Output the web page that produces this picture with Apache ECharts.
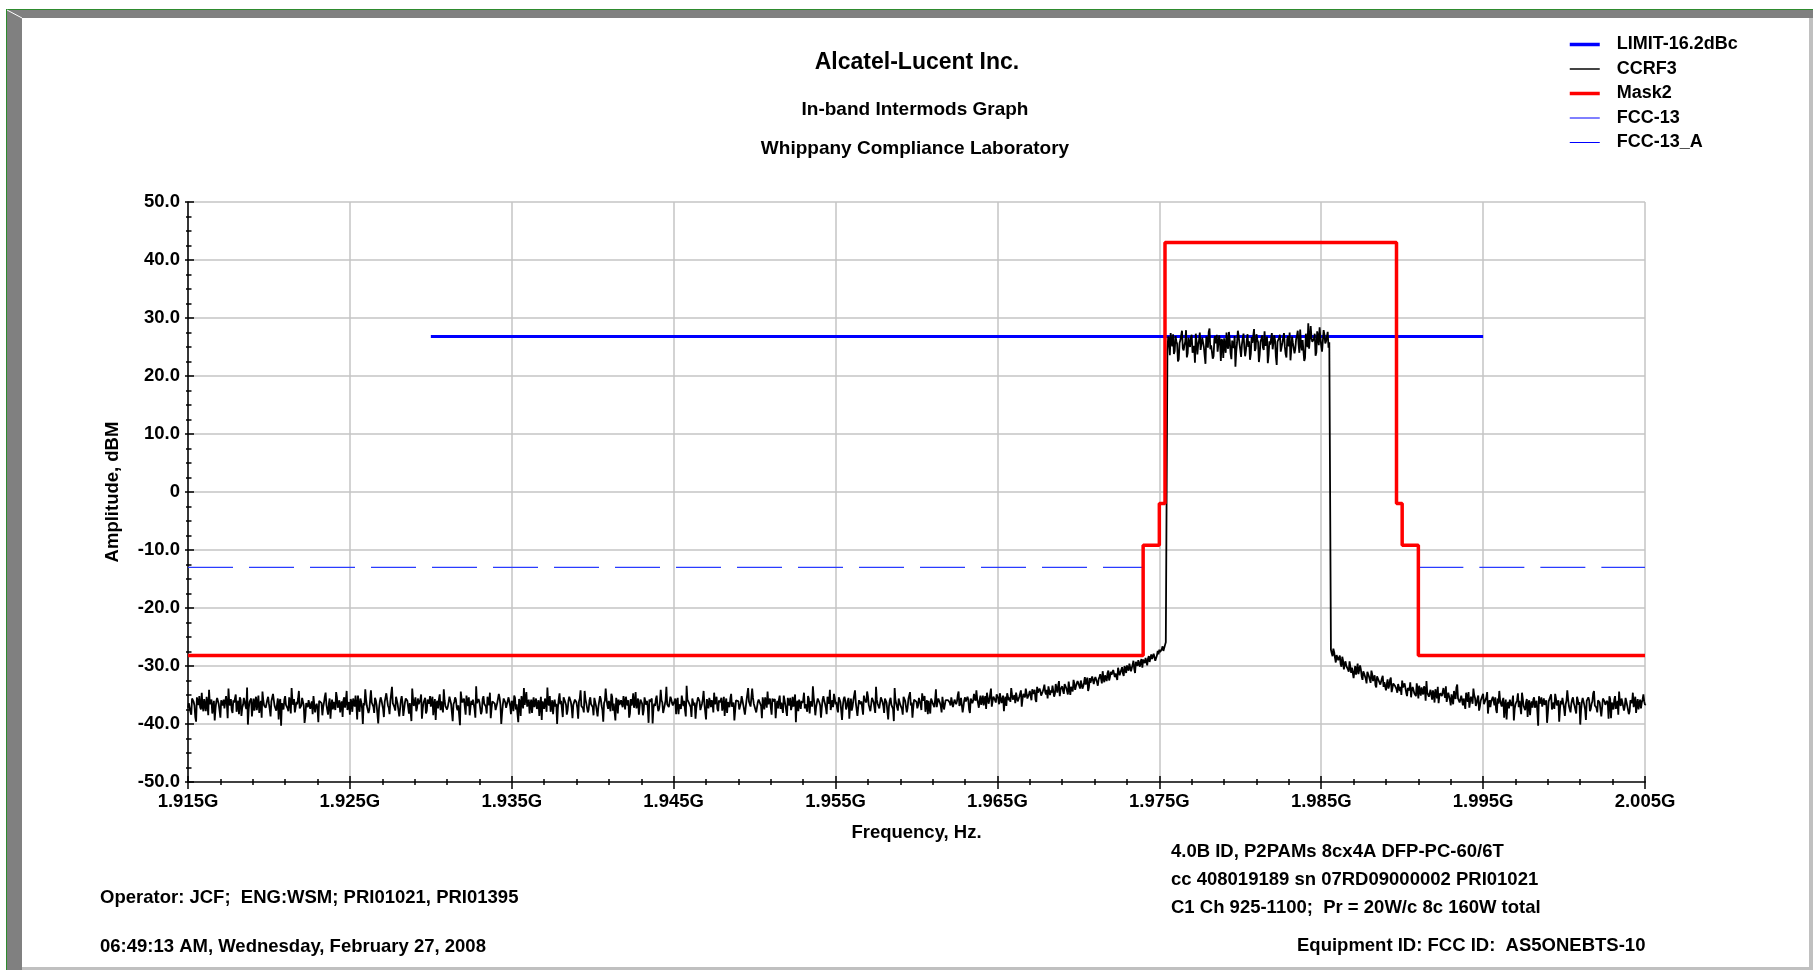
<!DOCTYPE html>
<html>
<head>
<meta charset="utf-8">
<script src="https://cdn.jsdelivr.net/npm/echarts@6/dist/echarts.min.js"></script>
<style>
  html, body { margin: 0; padding: 0; background: #ffffff; }
  #chart { width: 1813px; height: 970px; }
</style>
</head>
<body>
<div id="chart"></div>
<script>
// ---------------- DATA ----------------
const xMinGHz = 1.915;
const xMaxGHz = 2.005;
const xTickLabels = ['1.915G','1.925G','1.935G','1.945G','1.955G','1.965G','1.975G','1.985G','1.995G','2.005G'];
const yTickLabels = ['-50.0','-40.0','-30.0','-20.0','-10.0','0','10.0','20.0','30.0','40.0','50.0'];

const seriesNames = ['LIMIT-16.2dBc', 'CCRF3', 'Mask2', 'FCC-13', 'FCC-13_A'];

// LIMIT-16.2dBc
const limitFreqGHz = [1.930, 1.995];
const limitAmp = [26.8, 26.8];

// Mask2
const mask2FreqGHz = [1.915, 1.974, 1.974, 1.975, 1.975, 1.97535, 1.97535, 1.98965, 1.98965, 1.990, 1.990, 1.991, 1.991, 2.005];
const mask2Amp     = [-28.2, -28.2, -9.2, -9.2, -2.0, -2.0, 43.0, 43.0, -2.0, -2.0, -9.2, -9.2, -28.2, -28.2];

// FCC-13 / FCC-13_A
const fcc13FreqGHz = [1.915, 1.974];
const fcc13Amp = [-13, -13];
const fcc13AFreqGHz = [1.991, 2.005];
const fcc13AAmp = [-13, -13];

// CCRF3 sweep: 0.05 MHz per point. Each band is listed as two halves:
// "A" = samples on the 0.1 MHz grid, "B" = the samples 0.05 MHz after them.
const ccrf3StepGHz = 0.0001;
const ccrf3HalfStepGHz = 0.00005;

const ccrf3LowStartGHz = 1.915;
const ccrf3LowA = [
-37.2,-36.1,-38.4,-35.9,-36.8,-39.6,-36.3,-35.2,-37.5,-36.9,
-35.7,-37.8,-36.4,-34.1,-36.9,-38.2,-36.0,-37.3,-35.5,-36.6,
-38.9,-36.2,-35.8,-37.1,-36.5,-33.9,-36.8,-37.6,-35.9,-36.3,
-37.9,-36.0,-35.4,-38.6,-36.7,-36.1,-37.4,-40.1,-36.2,-35.6,
-36.9,-37.7,-35.3,-36.4,-38.1,-36.0,-34.4,-36.8,-37.2,-35.8,
-36.5,-38.7,-36.3,-35.9,-37.0,-36.6,-39.2,-35.7,-36.4,-37.5,
-35.2,-36.9,-37.8,-36.1,-33.8,-36.7,-38.0,-36.2,-35.6,-37.3,
-36.8,-35.5,-39.8,-36.4,-37.1,-35.9,-36.6,-38.3,-35.1,-36.9,
-37.4,-36.0,-35.7,-38.5,-36.3,-34.6,-37.0,-36.5,-39.1,-35.8,
-36.2,-37.6,-35.4,-36.8,-38.0,-36.1,-35.9,-37.2,-34.3,-36.7,
-38.4,-36.3,-35.6,-37.0,-36.6,-35.1,-37.9,-36.2,-40.0,-36.8,
-35.7,-36.9,-37.5,-34.2,-36.4,-38.1,-35.9,-36.6,-37.3,-35.4,
-36.1,-38.8,-36.5,-35.8,-37.2,-36.0,-33.6,-36.7,-37.7,-35.5,
-36.9,-37.4,-35.2,-38.6,-36.3,-35.9,-37.1,-36.4,-39.5,-35.7,
-36.2,-37.8,-35.6,-36.8,-34.9,-37.3,-36.1,-38.2,-35.8,-36.5,
-37.0,-35.3,-36.7,-39.3,-36.0,-35.7,-37.6,-36.3,-34.0,-36.9,
-37.5,-36.2,-35.9,-38.0,-36.6,-35.4,-37.2,-36.8,-40.2,-35.6,
-36.4,-37.1,-35.1,-36.9,-38.5,-36.0,-35.8,-37.4,-33.5,-36.6,
-36.2,-38.3,-35.7,-36.5,-37.0,-35.3,-36.8,-39.0,-36.1,-35.9,
-37.6,-36.4,-34.8,-36.7,-38.1,-35.6,-36.3,-37.2,-35.4,-36.9,
-36.0,-37.8,-35.5,-36.6,-39.7,-36.2,-35.2,-37.3,-36.7,-34.5,
-36.8,-38.2,-35.8,-36.4,-37.1,-35.6,-36.9,-38.6,-35.3,-36.1,
-37.4,-36.3,-33.7,-36.8,-37.9,-35.9,-36.5,-37.0,-40.0,-35.7,
-36.6,-37.5,-35.4,-36.2,-38.4,-36.0,-35.1,-37.2,-36.7,-35.8,
-36.3,-39.1,-35.6,-36.9,-37.3,-34.3,-36.4,-38.0,-35.9,-36.6,
-37.1,-35.5,-36.8,-38.7,-36.1,-35.7,-37.6,-36.4,-33.9,-36.7,
-36.0,-37.8,-35.3,-36.5,-39.4,-36.2,-35.8,-37.0,-36.6,-35.2,
-37.5,-36.3,-35.9,-38.2,-36.8,-34.7,-36.4,-37.3,-35.6,-36.9,
-36.1,-38.5,-35.4,-36.7,-37.2,-35.8,-36.2,-39.9,-36.5,-35.7,
-36.8,-37.4,-34.1,-36.3,-38.0,-35.9,-36.6,-37.1,-35.3,-36.4,
-37.0,-35.6,-36.2,-38.3,-36.5,-35.1,-36.9,-37.6,-33.4,-36.0,
-36.7,-38.8,-35.8,-36.3,-37.2,-35.4,-36.1,-37.9,-35.7,-36.6,
-39.2,-36.0,-35.5,-37.1,-36.4,-34.6,-36.8,-37.4,-35.9,-36.2,
-37.7,-35.3,-36.5,-38.1,-36.0,-35.6,-37.0,-36.3,-39.6,-35.8,
-36.1,-37.3,-35.2,-36.7,-38.4,-35.9,-33.8,-36.4,-37.1,-35.5,
-36.6,-38.0,-36.2,-35.7,-36.9,-35.4,-37.5,-36.1,-34.4,-36.8,
-37.2,-35.6,-36.3,-39.0,-36.0,-35.8,-37.4,-36.5,-35.1,-36.7,
-38.6,-36.2,-35.5,-36.9,-37.0,-34.9,-36.4,-37.8,-35.7,-36.0,
-35.9,-37.3,-36.6,-35.2,-38.2,-36.1,-33.5,-36.7,-37.1,-35.6,
-36.3,-38.9,-35.8,-36.0,-37.2,-35.3,-36.5,-37.6,-35.9,-34.8,
-36.6,-37.4,-35.4,-36.2,-39.3,-35.7,-36.0,-37.0,-35.5,-36.8,
-37.7,-35.9,-34.2,-36.4,-37.1,-35.6,-36.1,-38.4,-35.8,-36.3,
-35.2,-36.9,-37.5,-35.7,-36.0,-33.6,-36.5,-37.3,-35.4,-36.2,
-38.1,-35.8,-36.4,-36.9,-35.5,-37.0,-39.5,-35.9,-36.1,-35.6,
-36.7,-37.4,-35.3,-36.0,-38.0,-35.7,-34.5,-36.3,-37.2,-35.9,
-36.2,-36.8,-35.4,-37.6,-36.0,-35.2,-36.5,-38.3,-35.8,-35.6,
-36.4,-37.1,-34.0,-36.2,-35.7,-36.9,-35.3,-37.5,-35.9,-36.0
];
const ccrf3LowB = [
-36.4,-37.9,-35.6,-36.2,-38.8,-35.4,-36.7,-37.1,-34.6,-37.8,
-36.0,-35.3,-38.5,-36.6,-35.8,-37.0,-39.4,-36.1,-35.5,-37.7,
-35.9,-36.8,-37.3,-35.2,-39.0,-36.4,-35.7,-38.1,-36.3,-34.9,
-36.6,-38.3,-35.8,-37.2,-35.5,-36.9,-33.7,-37.4,-36.0,-38.7,
-35.6,-36.3,-37.6,-35.1,-36.8,-38.9,-35.9,-36.5,-37.2,-35.3,
-37.5,-36.1,-34.8,-36.9,-37.7,-35.6,-36.2,-40.3,-36.4,-35.8,
-36.7,-37.3,-35.4,-38.2,-36.0,-35.7,-37.9,-36.6,-34.3,-37.0,
-35.5,-36.8,-38.6,-36.2,-35.9,-37.4,-36.1,-35.2,-38.0,-36.5,
-39.7,-35.8,-36.4,-37.1,-35.3,-36.7,-38.4,-35.6,-36.9,-37.5,
-36.3,-34.5,-37.2,-35.9,-36.6,-38.8,-35.4,-36.0,-37.6,-36.2,
-35.7,-37.9,-36.5,-35.1,-39.2,-36.8,-35.6,-37.3,-36.4,-34.0,
-36.9,-38.1,-35.8,-36.3,-37.0,-35.5,-36.7,-39.9,-36.1,-35.9,
-37.4,-36.2,-34.7,-36.8,-38.3,-35.7,-36.4,-37.1,-35.3,-36.6,
-38.7,-35.9,-36.3,-37.5,-35.6,-36.0,-38.2,-36.5,-33.9,-36.9,
-35.4,-37.2,-36.6,-35.8,-39.1,-36.3,-35.5,-37.7,-36.0,-35.2,
-36.8,-38.5,-35.7,-36.4,-37.3,-34.9,-36.1,-38.0,-35.9,-36.7,
-37.0,-35.3,-36.5,-39.5,-36.2,-35.8,-37.6,-36.9,-34.4,-36.3,
-35.6,-38.4,-36.0,-35.4,-37.1,-36.7,-35.9,-38.9,-36.4,-35.7,
-36.2,-37.8,-35.2,-36.8,-38.2,-36.1,-34.6,-37.3,-35.8,-36.5,
-37.7,-36.3,-35.5,-40.0,-36.6,-35.9,-37.2,-36.0,-35.3,-38.3,
-36.4,-35.1,-37.5,-36.9,-35.7,-38.6,-36.2,-33.8,-36.8,-37.0,
-35.8,-36.6,-38.1,-35.4,-36.3,-37.4,-35.9,-36.7,-39.3,-36.1,
-35.6,-37.9,-36.4,-35.2,-36.9,-38.3,-35.8,-36.5,-37.2,-34.7,
-36.0,-38.8,-35.5,-36.7,-37.6,-35.3,-36.2,-39.0,-36.6,-35.9,
-37.3,-36.1,-34.2,-36.8,-38.0,-35.7,-36.4,-37.5,-35.4,-36.3,
-38.5,-35.8,-36.6,-37.0,-35.2,-36.9,-39.6,-36.0,-35.6,-37.4,
-36.2,-34.8,-37.7,-36.4,-35.5,-38.2,-36.7,-35.9,-37.1,-36.1,
-35.3,-36.8,-38.9,-35.7,-36.3,-37.2,-34.5,-36.6,-38.4,-35.8,
-36.5,-37.6,-35.4,-36.0,-39.8,-36.2,-35.6,-37.3,-36.9,-35.1,
-37.8,-36.3,-35.9,-38.1,-36.7,-33.6,-36.4,-37.0,-35.7,-36.8,
-36.1,-38.3,-35.5,-36.6,-37.4,-35.2,-36.0,-38.7,-35.8,-36.4,
-37.1,-35.6,-36.8,-39.1,-36.2,-35.4,-37.6,-36.5,-34.3,-36.9,
-35.7,-37.3,-36.1,-35.9,-38.0,-36.6,-35.3,-37.8,-36.3,-35.5,
-36.9,-38.6,-35.6,-36.2,-37.1,-34.8,-36.7,-39.4,-35.9,-36.0,
-37.5,-36.4,-35.2,-36.8,-38.2,-35.7,-36.1,-37.0,-33.9,-36.5,
-36.3,-37.7,-35.8,-36.0,-39.0,-36.4,-35.4,-37.2,-36.6,-35.6,
-38.4,-36.1,-35.7,-36.9,-37.3,-35.1,-36.3,-38.1,-35.9,-36.7,
-35.5,-36.8,-37.6,-35.3,-36.2,-39.7,-36.0,-35.8,-37.4,-36.4,
-34.6,-36.6,-37.9,-35.6,-36.1,-37.0,-35.4,-38.5,-36.3,-35.7,
-36.8,-37.2,-35.2,-36.5,-38.3,-35.9,-34.1,-36.7,-37.1,-35.5,
-36.2,-38.0,-35.8,-36.4,-36.9,-35.3,-37.5,-36.0,-39.1,-35.6,
-37.0,-35.7,-36.3,-38.6,-35.9,-36.6,-37.3,-35.1,-36.1,-34.4,
-36.7,-37.8,-35.5,-36.2,-38.1,-35.8,-36.4,-37.0,-35.4,-36.9,
-35.6,-36.3,-39.2,-35.9,-36.7,-37.4,-33.8,-36.2,-37.7,-35.7,
-36.5,-38.4,-35.3,-36.0,-37.2,-35.6,-36.8,-38.9,-35.8,-36.1,
-37.3,-35.5,-36.6,-34.7,-36.3,-37.9,-35.9,-36.0,-38.2,-35.4,
-36.2,-35.8,-37.1,-35.6,-36.4,-38.0,-35.2,-36.7,-36.1,-35.9
];

const ccrf3RiseStartGHz = 1.962;
const ccrf3RiseA = [
-35.6,-36.8,-35.2,-37.3,-35.9,-36.1,-34.4,-36.5,-35.7,-37.0,
-35.4,-36.2,-35.8,-38.1,-35.3,-36.0,-35.6,-34.2,-36.4,-35.9,
-36.7,-35.1,-35.8,-37.4,-35.5,-35.9,-33.9,-36.1,-35.4,-36.3,
-35.2,-36.6,-35.0,-35.7,-37.8,-35.3,-34.7,-35.9,-36.2,-34.9,
-35.5,-36.4,-34.6,-35.8,-35.1,-37.0,-34.8,-35.4,-33.6,-35.7,
-34.3,-35.9,-34.8,-34.1,-36.2,-34.6,-33.9,-35.1,-34.4,-33.2,
-34.9,-35.6,-33.8,-34.2,-33.4,-35.3,-33.1,-34.6,-32.6,-34.0,
-33.5,-34.8,-33.2,-33.9,-32.7,-35.0,-33.3,-32.4,-34.1,-33.0,
-32.8,-33.9,-32.2,-33.5,-31.9,-32.6,-34.3,-32.1,-32.9,-31.6,
-32.3,-31.7,-33.4,-31.9,-32.2,-30.9,-32.8,-31.5,-31.2,-32.5,
-31.0,-31.8,-30.4,-31.3,-32.4,-30.6,-31.1,-30.2,-31.7,-30.5,
-29.9,-30.8,-29.4,-30.3,-29.1,-31.2,-29.6,-29.0,-30.1,-28.8,
-28.9,-29.5,-28.4,-28.7,-29.3,-28.0,-28.5,-27.7,-28.9,-27.4,
-27.2,-27.8,-26.6,-26.9,-25.9
];
const ccrf3RiseB = [
-36.3,-35.4,-37.1,-35.8,-36.6,-35.0,-36.9,-35.5,-38.0,-35.9,
-36.1,-35.3,-37.5,-35.6,-36.4,-34.8,-36.0,-35.7,-37.2,-35.1,
-35.9,-36.8,-35.2,-34.6,-36.5,-35.8,-37.0,-35.3,-35.9,-34.9,
-35.6,-34.7,-36.4,-35.1,-35.9,-36.9,-34.5,-35.4,-33.8,-35.8,
-35.0,-34.6,-36.1,-35.3,-34.2,-35.7,-35.0,-33.9,-35.6,-34.8,
-35.2,-34.0,-34.7,-35.8,-33.6,-34.9,-34.3,-35.4,-33.9,-34.5,
-34.1,-33.5,-35.0,-34.6,-33.2,-34.8,-33.9,-33.4,-35.2,-33.7,
-34.3,-33.1,-33.8,-34.9,-32.9,-33.6,-34.4,-33.0,-33.5,-32.6,
-33.4,-32.5,-33.9,-32.8,-33.2,-32.0,-33.7,-32.9,-31.8,-33.1,
-31.9,-32.8,-32.3,-31.4,-33.0,-32.1,-31.6,-32.6,-30.8,-31.9,
-31.5,-30.7,-31.9,-31.1,-30.3,-31.6,-30.9,-31.3,-30.0,-31.2,
-30.4,-29.6,-30.9,-29.8,-30.5,-29.3,-30.0,-29.7,-29.2,-30.3,
-29.2,-28.6,-29.9,-28.3,-29.0,-28.8,-27.9,-29.1,-28.2,-28.0,
-27.6,-27.1,-27.4,-26.4,-26.2
];

const ccrf3BandStartGHz = 1.9755;
const ccrf3BandA = [
24.6,26.3,27.4,25.1,23.8,26.9,25.5,22.9,26.2,27.8,
24.4,25.9,23.2,26.6,25.0,27.1,24.1,22.3,26.0,25.4,
27.5,24.7,25.8,23.5,26.8,24.9,28.2,25.3,23.0,26.4,
25.6,24.2,27.0,22.6,25.9,26.5,24.0,25.2,27.6,23.9,
26.1,24.8,21.6,25.7,26.9,24.5,25.4,27.3,23.4,26.2,
25.0,22.8,26.7,25.5,24.3,27.2,25.8,23.7,26.4,24.9,
27.7,25.3,22.2,26.0,25.6,24.6,27.0,23.3,25.9,26.6,
24.2,25.7,27.4,23.8,26.3,25.1,22.7,26.8,25.4,24.7,
26.9,25.5,28.0,24.4,26.1,23.1,25.8,29.1,24.9,26.5,
25.6,27.3,24.1,26.7,28.4,25.2,23.9,27.1,26.0,27.6,
25.8
];
const ccrf3BandB = [
26.8,23.6,25.9,27.2,24.3,26.0,22.5,25.7,27.0,24.8,
25.3,27.9,23.9,25.6,26.7,24.0,25.2,27.3,23.7,26.1,
24.5,26.6,25.0,22.1,26.3,27.6,24.6,25.5,23.4,26.9,
27.1,24.1,25.8,26.4,23.1,25.1,27.5,24.7,26.2,22.9,
25.4,26.9,24.2,27.8,25.6,23.3,26.5,25.0,24.4,27.2,
26.0,23.8,25.7,28.1,24.8,26.3,22.4,25.9,27.0,24.5,
25.2,26.8,23.6,25.4,27.4,24.9,26.1,21.9,25.8,27.1,
24.3,26.6,25.1,23.2,26.9,27.5,24.6,25.7,23.9,26.4,
27.8,24.0,25.5,26.2,22.6,27.3,25.0,24.7,28.6,25.9,
26.4,23.5,27.7,25.3,26.6,24.2,27.9,25.6,26.8,24.9,
25.5
];

const ccrf3HighStartGHz = 1.9856;
const ccrf3HighA = [
-27.2,-28.3,-27.6,-29.4,-28.0,-28.9,-29.7,-28.4,-30.6,-29.2,
-29.8,-31.0,-29.5,-30.3,-32.1,-30.0,-30.7,-31.4,-29.9,-31.8,
-30.9,-31.5,-33.0,-31.2,-32.0,-30.8,-32.6,-31.6,-33.7,-31.9,
-32.4,-33.1,-31.7,-32.8,-34.2,-32.3,-33.4,-32.0,-33.8,-32.7,
-33.3,-34.6,-32.9,-33.6,-32.5,-34.0,-33.2,-35.2,-33.5,-32.8,
-34.1,-33.4,-34.8,-33.0,-35.6,-34.3,-33.7,-34.9,-33.9,-32.6,
-34.5,-35.0,-33.8,-34.2,-36.3,-34.7,-33.6,-35.1,-34.4,-35.5,
-34.8,-33.5,-35.3,-34.6,-36.8,-35.0,-34.3,-35.7,-33.2,-35.4,
-36.0,-34.9,-35.6,-37.4,-35.2,-34.5,-36.1,-35.8,-33.9,-35.5,
-36.4,-35.1,-37.0,-35.7,-34.8,-36.3,-35.4,-38.2,-35.9,-36.1,
-35.3,-36.8,-37.5,-35.6,-34.3,-36.5,-36.0,-38.9,-35.8,-36.7,
-37.3,-35.5,-36.2,-39.4,-36.6,-35.9,-37.1,-36.3,-34.6,-36.9,
-37.6,-35.7,-36.4,-38.5,-36.1,-35.8,-37.2,-36.0,-40.3,-36.5,
-35.4,-37.0,-36.7,-35.9,-38.1,-36.2,-34.9,-36.8,-37.4,-35.6,
-36.3,-39.6,-36.0,-35.5,-37.3,-36.6,-34.2,-36.9,-38.0,-35.8,
-36.4,-37.1,-35.3,-36.7,-40.1,-36.2,-35.7,-37.5,-36.0,-35.4,
-37.8,-36.5,-34.7,-36.8,-37.2,-35.9,-36.3,-38.7,-35.6,-36.1,
-37.0,-36.4,-35.2,-39.0,-36.6,-35.8,-37.4,-36.0,-34.4,-36.9,
-36.2,-37.7,-35.5,-36.8,-38.3,-35.9,-36.4,-37.1,-35.3,-36.6,
-37.5,-35.8,-36.3,-34.9,-36.7
];
const ccrf3HighB = [
-27.8,-27.0,-28.6,-28.1,-29.0,-28.2,-30.1,-29.1,-29.6,-30.0,
-30.6,-29.2,-31.2,-30.4,-30.9,-31.5,-29.6,-31.1,-30.6,-32.4,
-31.3,-32.2,-31.0,-31.8,-32.9,-31.4,-32.1,-33.3,-31.8,-32.5,
-33.2,-32.1,-33.6,-32.6,-33.1,-33.9,-32.4,-34.5,-33.0,-33.4,
-34.0,-33.1,-34.3,-35.0,-33.7,-33.0,-34.6,-33.8,-34.2,-35.4,
-33.6,-34.7,-35.2,-34.0,-33.4,-35.1,-34.5,-33.5,-36.0,-34.6,
-35.3,-34.1,-35.8,-34.9,-34.0,-35.6,-36.4,-34.7,-35.2,-33.8,
-35.5,-36.2,-34.6,-35.9,-34.9,-36.6,-35.3,-33.7,-35.6,-36.3,
-35.1,-36.8,-35.8,-34.6,-36.2,-37.2,-35.3,-36.5,-35.0,-36.9,
-35.6,-37.7,-36.0,-35.2,-36.6,-35.8,-34.5,-36.4,-37.1,-35.7,
-36.1,-35.4,-38.1,-36.5,-35.9,-37.0,-35.5,-36.8,-39.2,-36.2,
-35.8,-36.9,-35.1,-37.4,-36.4,-34.7,-36.0,-38.3,-35.6,-36.6,
-36.3,-38.8,-35.9,-36.7,-37.2,-35.4,-36.5,-37.8,-35.2,-36.1,
-37.0,-35.6,-36.4,-39.8,-36.1,-35.8,-37.5,-36.3,-34.8,-36.8,
-35.9,-37.3,-36.6,-35.3,-38.6,-36.0,-35.7,-37.1,-36.5,-35.4,
-36.9,-38.2,-35.8,-36.2,-37.6,-35.5,-36.7,-39.3,-36.0,-35.9,
-37.4,-36.1,-34.3,-36.6,-38.0,-35.6,-36.4,-37.2,-35.8,-36.7,
-36.0,-39.1,-35.7,-36.3,-37.5,-35.2,-36.8,-38.4,-36.2,-35.6,
-36.5,-37.0,-35.4,-36.9,-37.8,-35.9,-34.6,-36.3,-38.1,-35.7,
-36.4,-37.3,-35.8,-36.1,-36.6
];

// ---------------- BUILD ----------------
// x axis is plotted in MHz above the sweep start (1.915 GHz)
function xOff(fGHz) { return Math.round((fGHz - xMinGHz) * 1e6) / 1e3; }
function pairs(freqs, amps) { return freqs.map((f, i) => [xOff(f), amps[i]]); }
function band(startGHz, halfA, halfB) {
  const out = [];
  const n = Math.max(halfA.length, halfB.length);
  for (let k = 0; k < n; k++) {
    if (k < halfA.length) out.push([xOff(startGHz + k * ccrf3StepGHz), halfA[k]]);
    if (k < halfB.length) out.push([xOff(startGHz + k * ccrf3StepGHz + ccrf3HalfStepGHz), halfB[k]]);
  }
  return out;
}
const ccrf3Data = [].concat(
  band(ccrf3LowStartGHz, ccrf3LowA, ccrf3LowB),
  band(ccrf3RiseStartGHz, ccrf3RiseA, ccrf3RiseB),
  band(ccrf3BandStartGHz, ccrf3BandA, ccrf3BandB),
  band(ccrf3HighStartGHz, ccrf3HighA, ccrf3HighB)
);

const FONT = '"Liberation Sans", Arial, Helvetica, sans-serif';
const xSpan = xOff(xMaxGHz);

const chart = echarts.init(document.getElementById('chart'), null, { renderer: 'canvas' });

const gridPos = { left: 188, top: 202, width: 1457, height: 580 };

function xAxisCfg(gridIndex, main) {
  return {
    type: 'value', gridIndex: gridIndex, min: 0, max: xSpan, interval: 10,
    axisLine: { show: main, onZero: false, lineStyle: { color: '#404040', width: 2 } },
    axisTick: { show: true, inside: !main, length: main ? 7 : 6, lineStyle: { color: '#000', width: 1.5 } },
    minorTick: { show: true, splitNumber: 5, length: 3, lineStyle: { color: '#000', width: 1.5 } },
    splitLine: { show: main, lineStyle: { color: '#c4c4c4', width: 1.5 } },
    axisLabel: {
      show: main, margin: 10, color: '#000', fontSize: 18.5, fontWeight: 'bold', fontFamily: FONT,
      formatter: v => xTickLabels[Math.round(v / 10)] || ''
    },
    name: main ? 'Frequency, Hz.' : '', nameLocation: 'middle', nameGap: 41,
    nameTextStyle: { color: '#000', fontSize: 18.5, fontWeight: 'bold', fontFamily: FONT }
  };
}
function yAxisCfg(gridIndex, main) {
  return {
    type: 'value', gridIndex: gridIndex, min: -50, max: 50, interval: 10,
    axisLine: { show: main, onZero: false, lineStyle: { color: '#000', width: 1.5 } },
    axisTick: { show: true, inside: !main, length: main ? 3 : 6, lineStyle: { color: '#000', width: 1.5 } },
    minorTick: { show: true, splitNumber: 4, length: main ? 2 : 3.5, lineStyle: { color: '#000', width: 1.5 } },
    splitLine: { show: main, lineStyle: { color: '#c4c4c4', width: 1.5 } },
    axisLabel: {
      show: main, margin: 8, color: '#000', fontSize: 18.5, fontWeight: 'bold', fontFamily: FONT,
      formatter: v => yTickLabels[Math.round((v + 50) / 10)] || ''
    },
    name: main ? 'Amplitude, dBM' : '', nameLocation: 'middle', nameGap: 66, nameRotate: 90,
    nameTextStyle: { color: '#000', fontSize: 18.5, fontWeight: 'bold', fontFamily: FONT }
  };
}

function txt(x, y, text, size, align) {
  return {
    type: 'text', x: x, y: y, silent: true,
    style: {
      text: text, fill: '#000', fontSize: size, fontWeight: 'bold', fontFamily: FONT,
      align: align || 'left', verticalAlign: 'middle'
    }
  };
}
function rect(x, y, w, h, color) {
  return { type: 'rect', silent: true, shape: { x: x, y: y, width: w, height: h }, style: { fill: color } };
}

const option = {
  animation: false,
  backgroundColor: '#ffffff',
  grid: [
    Object.assign({}, gridPos, { containLabel: false }),
    Object.assign({}, gridPos, { containLabel: false })
  ],
  xAxis: [xAxisCfg(0, true), xAxisCfg(1, false)],
  yAxis: [yAxisCfg(0, true), yAxisCfg(1, false)],
  legend: {
    orient: 'vertical', left: 1568, top: 35.5, padding: 0,
    itemWidth: 30, itemHeight: 14, itemGap: 6.5,
    itemStyle: { opacity: 0 },
    textStyle: { color: '#000', fontSize: 18, fontWeight: 'bold', fontFamily: FONT, lineHeight: 18, padding: [0, 0, 0, 12] },
    data: [
      { name: seriesNames[0], itemStyle: { opacity: 0 }, lineStyle: { color: '#0000ff', width: 3.5, type: 'solid' } },
      { name: seriesNames[1], itemStyle: { opacity: 0 }, lineStyle: { color: '#444444', width: 2, type: 'solid' } },
      { name: seriesNames[2], itemStyle: { opacity: 0 }, lineStyle: { color: '#ff0000', width: 3.5, type: 'solid' } },
      { name: seriesNames[3], itemStyle: { opacity: 0 }, lineStyle: { color: '#0000ff', width: 1, type: 'solid' } },
      { name: seriesNames[4], itemStyle: { opacity: 0 }, lineStyle: { color: '#0000ff', width: 1, type: 'solid' } }
    ]
  },
  series: [
    { name: seriesNames[0], type: 'line', symbol: 'none', xAxisIndex: 0, yAxisIndex: 0,
      lineStyle: { color: '#0000ff', width: 3 }, itemStyle: { color: '#0000ff' },
      data: pairs(limitFreqGHz, limitAmp), z: 3 },
    { name: seriesNames[1], type: 'line', symbol: 'none', xAxisIndex: 0, yAxisIndex: 0,
      lineStyle: { color: '#000000', width: 1.8 }, itemStyle: { color: '#000000' },
      data: ccrf3Data, z: 4 },
    { name: seriesNames[2], type: 'line', symbol: 'none', xAxisIndex: 0, yAxisIndex: 0,
      lineStyle: { color: '#ff0000', width: 3.5 }, itemStyle: { color: '#ff0000' },
      data: pairs(mask2FreqGHz, mask2Amp), z: 5 },
    { name: seriesNames[3], type: 'line', symbol: 'none', xAxisIndex: 0, yAxisIndex: 0,
      lineStyle: { color: '#2a3cff', width: 1.2, type: [45, 16] }, itemStyle: { color: '#2a3cff' },
      data: pairs(fcc13FreqGHz, fcc13Amp), z: 3 },
    { name: seriesNames[4], type: 'line', symbol: 'none', xAxisIndex: 0, yAxisIndex: 0,
      lineStyle: { color: '#2a3cff', width: 1.2, type: [45, 16] }, itemStyle: { color: '#2a3cff' },
      data: pairs(fcc13AFreqGHz, fcc13AAmp), z: 3 }
  ],
  graphic: [
    // frame
    rect(6, 9, 1807, 1, '#2e8b2e'),
    rect(6, 9, 1, 961, '#2e8b2e'),
    rect(7, 10, 1806, 8, '#808080'),
    rect(7, 10, 15, 960, '#808080'),
    rect(1809, 18, 4, 952, '#c0c0c0'),
    rect(22, 967, 1791, 3, '#c0c0c0'),
    { type: 'line', silent: true, shape: { x1: 7, y1: 10, x2: 22, y2: 18 }, style: { stroke: '#ffffff', lineWidth: 1 } },
    // titles
    txt(917, 63, 'Alcatel-Lucent Inc.', 23, 'center'),
    txt(915, 110, 'In-band Intermods Graph', 19, 'center'),
    txt(915, 149, 'Whippany Compliance Laboratory', 19, 'center'),
    // footer
    txt(100, 898, 'Operator: JCF;  ENG:WSM; PRI01021, PRI01395', 18.5, 'left'),
    txt(100, 947, '06:49:13 AM, Wednesday, February 27, 2008', 18.5, 'left'),
    txt(1171, 852, '4.0B ID, P2PAMs 8cx4A DFP-PC-60/6T', 18.5, 'left'),
    txt(1171, 880, 'cc 408019189 sn 07RD09000002 PRI01021', 18.5, 'left'),
    txt(1171, 908, 'C1 Ch 925-1100;  Pr = 20W/c 8c 160W total', 18.5, 'left'),
    txt(1297, 946, 'Equipment ID: FCC ID:  AS5ONEBTS-10', 18.5, 'left')
  ]
};
chart.setOption(option);
</script>
</body>
</html>
